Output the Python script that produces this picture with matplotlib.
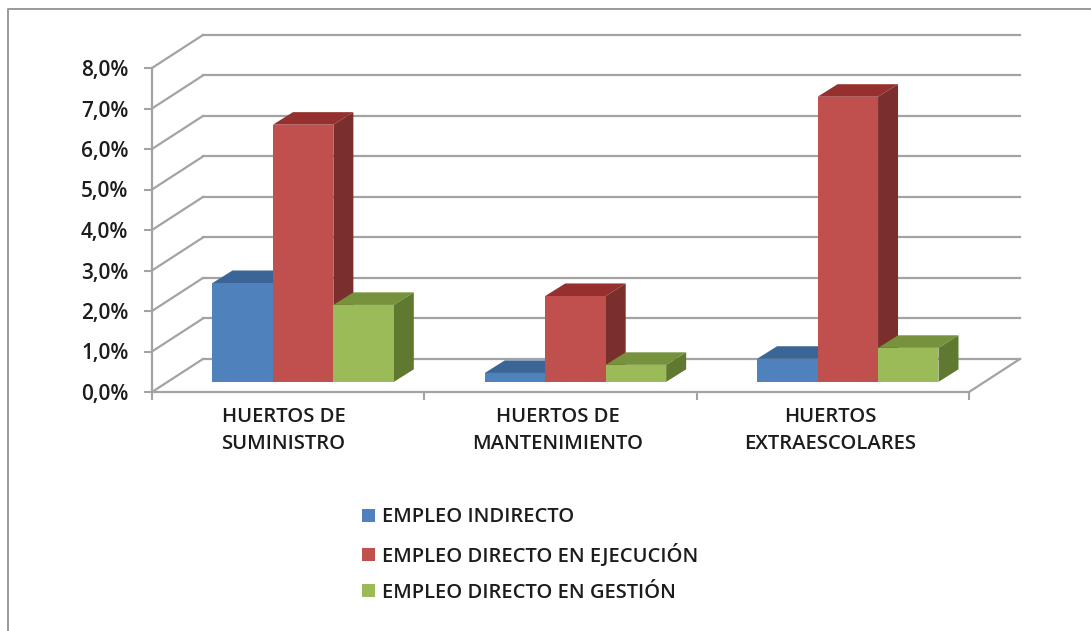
import matplotlib
matplotlib.use('Agg')
import matplotlib.pyplot as plt
from matplotlib.lines import Line2D

plt.rcParams['font.family'] = ['Open Sans', 'DejaVu Sans']

categories = ['HUERTOS DE\nSUMINISTRO', 'HUERTOS DE\nMANTENIMIENTO', 'HUERTOS\nEXTRAESCOLARES']
indirecto = [2.44, 0.22, 0.57]
ejecucion = [6.35, 2.12, 7.04]
gestion = [1.90, 0.42, 0.84]
y_ticks = [0, 1, 2, 3, 4, 5, 6, 7, 8]

series = [
    ('EMPLEO INDIRECTO', indirecto, '#4f81bd', '#3a6596', '#2f5583'),
    ('EMPLEO DIRECTO EN EJECUCIÓN', ejecucion, '#c0504d', '#96302e', '#7b2f2d'),
    ('EMPLEO DIRECTO EN GESTIÓN', gestion, '#9bbb59', '#76923c', '#5f7a30'),
]

W, H = 1091, 631
GRID = '#a3a3a3'
INK = '#1c1c1c'

# depth of the fake 3d box, in data units (x = categories, y = percent)
BACK_X, BACK_Y = 0.187, 0.815
PLANE_X, PLANE_Y = 0.055, 0.25
BAR_W = 0.222
DEPTH_X, DEPTH_Y = 0.0734, 0.31

fig = plt.figure(figsize=(W / 100, H / 100), dpi=100)
ax = fig.add_axes([152 / W, 1 - 392 / H, (969 - 152) / W, 324 / H])
ax.set_xlim(0, 3)
ax.set_ylim(0, 8)

# walls: grid on the back, slanted lines on the side, floor edge on the right
for t in y_ticks:
    ax.plot([BACK_X, 3 + BACK_X], [t + BACK_Y, t + BACK_Y], color=GRID, lw=1.6,
            clip_on=False, zorder=1)
    ax.plot([0, BACK_X], [t, t + BACK_Y], color=GRID, lw=1.6, clip_on=False, zorder=1)
ax.plot([3, 3 + BACK_X], [0, BACK_Y], color=GRID, lw=1.6, clip_on=False, zorder=1)

# bars, drawn series by series so each one overlaps the one before
for s, (name, values, front, top, side) in enumerate(series):
    for i, v in enumerate(values):
        x0 = i + 0.5 + PLANE_X + (s - 1.5) * BAR_W
        x1 = x0 + BAR_W
        y0 = PLANE_Y
        y1 = PLANE_Y + v
        z = 3 + s
        ax.fill([x0, x1, x1 + DEPTH_X, x0 + DEPTH_X], [y1, y1, y1 + DEPTH_Y, y1 + DEPTH_Y],
                color=top, lw=0, clip_on=False, zorder=z)
        ax.fill([x1, x1 + DEPTH_X, x1 + DEPTH_X, x1], [y0, y0 + DEPTH_Y, y1 + DEPTH_Y, y1],
                color=side, lw=0, clip_on=False, zorder=z)
    ax.bar([i + 0.5 + PLANE_X + (s - 1) * BAR_W for i in range(3)], values, width=BAR_W,
           bottom=PLANE_Y, color=front, label=name, clip_on=False, zorder=3 + s)

for side in ['top', 'right']:
    ax.spines[side].set_visible(False)
for side in ['left', 'bottom']:
    ax.spines[side].set_color(GRID)
    ax.spines[side].set_linewidth(1.6)
    ax.spines[side].set_zorder(8)

ax.set_yticks(y_ticks)
ax.set_yticklabels(['%d,0%%' % t for t in y_ticks], fontsize=15, color=INK, fontweight='semibold')
ax.set_xticks([0, 1, 2, 3])
ax.set_xticklabels([])
ax.set_xticks([0.483, 1.49, 2.49], minor=True)
ax.set_xticklabels(categories, minor=True, fontsize=14.6, color=INK, fontweight='semibold',
                   linespacing=1.45)
ax.tick_params(axis='both', which='major', color=GRID, width=1.5, length=6)
ax.tick_params(axis='y', which='major', pad=11)
ax.tick_params(axis='x', which='minor', length=0, pad=11)

ax.legend(loc='upper left', bbox_to_anchor=(362 / W, 1 - 507.5 / H), bbox_transform=fig.transFigure,
          frameon=False, prop={'size': 14.5, 'weight': 'semibold'}, labelcolor=INK,
          handlelength=0.65, handleheight=0.65, handletextpad=0.35, labelspacing=0.8,
          borderpad=0, borderaxespad=0)

# outer frame of the pasted chart
fig.add_artist(Line2D([8 / W, 8 / W, 1], [0, 1 - 9 / H, 1 - 9 / H], color='#9a9a9a', lw=1.4))

fig.savefig('out.png', dpi=100)
